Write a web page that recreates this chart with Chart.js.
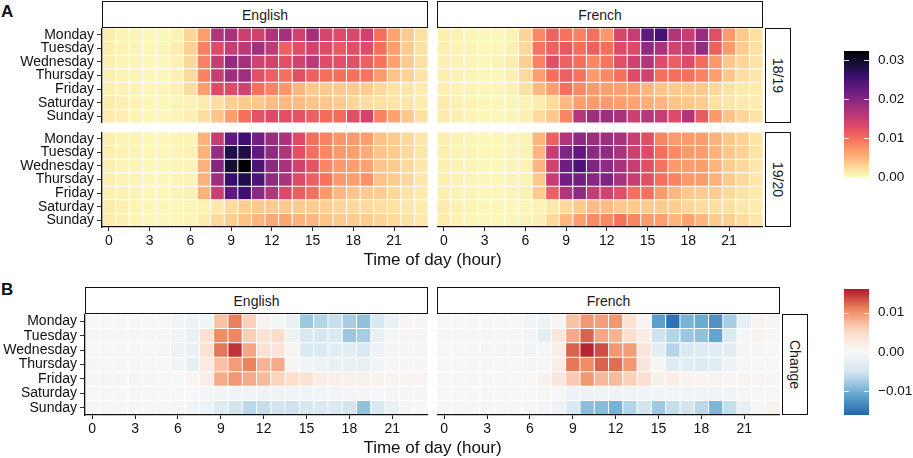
<!DOCTYPE html>
<html>
<head>
<meta charset="utf-8">
<script src="https://cdn.jsdelivr.net/npm/chart.js@4.4.1/dist/chart.umd.min.js"></script>
<style>
  body { margin: 0; background: #fff; }
  #wrap { position: relative; width: 913px; height: 458px; overflow: hidden; font-family: 'Liberation Sans', Arial, Helvetica, sans-serif; color: #111; }
  canvas { position: absolute; }
  .strip { position: absolute; box-sizing: border-box; border: 1.3px solid #111; background: #fff; display: flex; align-items: center; justify-content: center; font-size: 14px; color: #1a1a1a; }
  .strip.side { writing-mode: vertical-rl; }
  .tag { position: absolute; font-size: 17px; font-weight: bold; line-height: 17px; }
  .xtitle { position: absolute; font-size: 17px; line-height: 17px; text-align: center; }
</style>
</head>
<body>
<div id="wrap">
  <div class="tag" style="left:1px;top:3px">A</div>
  <div class="tag" style="left:1px;top:281px">B</div>

  <div class="strip" style="left:102px;top:1px;width:326px;height:27px">English</div>
  <div class="strip" style="left:437px;top:1px;width:326px;height:27px">French</div>
  <div class="strip side" style="left:765px;top:28px;width:26px;height:95px">18/19</div>
  <div class="strip side" style="left:765px;top:132px;width:26px;height:95px">19/20</div>

  <div class="strip" style="left:85px;top:287px;width:343px;height:27px">English</div>
  <div class="strip" style="left:437px;top:287px;width:343px;height:27px">French</div>
  <div class="strip side" style="left:782px;top:314px;width:26px;height:101px">Change</div>

  <canvas id="enTop" width="428" height="95" style="left:0;top:28px"></canvas>
  <canvas id="frTop" width="326" height="95" style="left:437px;top:28px"></canvas>
  <canvas id="enBot" width="428" height="119" style="left:0;top:132px"></canvas>
  <canvas id="frBot" width="326" height="119" style="left:437px;top:132px"></canvas>
  <canvas id="enChg" width="428" height="125" style="left:0;top:314px"></canvas>
  <canvas id="frChg" width="343" height="125" style="left:437px;top:314px"></canvas>
  <canvas id="cbShare" width="72" height="136" style="left:844px;top:46px"></canvas>
  <canvas id="cbChange" width="72" height="136" style="left:844px;top:284px"></canvas>

  <div class="xtitle" style="left:102px;top:251px;width:661px">Time of day (hour)</div>
  <div class="xtitle" style="left:85px;top:439px;width:695px">Time of day (hour)</div>
</div>

<script>
const hours = Array.from({ length: 24 }, (_, i) => i);
const days = ['Monday', 'Tuesday', 'Wednesday', 'Thursday', 'Friday', 'Saturday', 'Sunday'];

// share of activity per hour, 18/19
const english1819 = [
  [0.0011, 0.0008, 0.0006, 0.0005, 0.0005, 0.0008, 0.0028, 0.0065, 0.0168, 0.0172, 0.0145, 0.0142, 0.0168, 0.0175, 0.0140, 0.0175, 0.0135, 0.0128, 0.0132, 0.0142, 0.0098, 0.0060, 0.0035, 0.0020],
  [0.0011, 0.0008, 0.0006, 0.0005, 0.0006, 0.0012, 0.0030, 0.0085, 0.0128, 0.0150, 0.0158, 0.0178, 0.0155, 0.0110, 0.0125, 0.0140, 0.0128, 0.0115, 0.0125, 0.0128, 0.0098, 0.0065, 0.0035, 0.0020],
  [0.0010, 0.0008, 0.0006, 0.0005, 0.0005, 0.0009, 0.0026, 0.0085, 0.0150, 0.0190, 0.0175, 0.0142, 0.0138, 0.0125, 0.0140, 0.0158, 0.0128, 0.0125, 0.0125, 0.0110, 0.0095, 0.0062, 0.0035, 0.0020],
  [0.0010, 0.0008, 0.0006, 0.0005, 0.0005, 0.0009, 0.0025, 0.0085, 0.0148, 0.0180, 0.0180, 0.0125, 0.0110, 0.0098, 0.0125, 0.0110, 0.0098, 0.0098, 0.0098, 0.0095, 0.0068, 0.0040, 0.0030, 0.0018],
  [0.0010, 0.0008, 0.0006, 0.0005, 0.0005, 0.0009, 0.0022, 0.0065, 0.0128, 0.0128, 0.0140, 0.0098, 0.0085, 0.0070, 0.0050, 0.0038, 0.0035, 0.0035, 0.0035, 0.0033, 0.0025, 0.0018, 0.0015, 0.0012],
  [0.0012, 0.0009, 0.0007, 0.0005, 0.0005, 0.0006, 0.0008, 0.0012, 0.0022, 0.0032, 0.0035, 0.0038, 0.0045, 0.0048, 0.0045, 0.0040, 0.0038, 0.0036, 0.0028, 0.0022, 0.0020, 0.0018, 0.0015, 0.0012],
  [0.0012, 0.0010, 0.0007, 0.0005, 0.0005, 0.0006, 0.0010, 0.0022, 0.0040, 0.0065, 0.0098, 0.0122, 0.0128, 0.0125, 0.0122, 0.0110, 0.0100, 0.0100, 0.0125, 0.0138, 0.0085, 0.0062, 0.0038, 0.0020]
];
const french1819 = [
  [0.0010, 0.0008, 0.0006, 0.0005, 0.0005, 0.0008, 0.0028, 0.0080, 0.0108, 0.0095, 0.0085, 0.0098, 0.0070, 0.0135, 0.0150, 0.0230, 0.0250, 0.0165, 0.0150, 0.0185, 0.0125, 0.0068, 0.0038, 0.0020],
  [0.0010, 0.0008, 0.0006, 0.0005, 0.0005, 0.0009, 0.0025, 0.0095, 0.0108, 0.0118, 0.0098, 0.0110, 0.0098, 0.0128, 0.0130, 0.0190, 0.0172, 0.0140, 0.0155, 0.0188, 0.0110, 0.0068, 0.0035, 0.0020],
  [0.0010, 0.0008, 0.0006, 0.0005, 0.0006, 0.0012, 0.0032, 0.0085, 0.0125, 0.0110, 0.0098, 0.0082, 0.0095, 0.0125, 0.0140, 0.0165, 0.0128, 0.0112, 0.0128, 0.0100, 0.0070, 0.0038, 0.0028, 0.0018],
  [0.0010, 0.0008, 0.0006, 0.0005, 0.0005, 0.0009, 0.0025, 0.0065, 0.0098, 0.0110, 0.0095, 0.0068, 0.0080, 0.0098, 0.0128, 0.0140, 0.0098, 0.0098, 0.0098, 0.0085, 0.0065, 0.0038, 0.0022, 0.0015],
  [0.0010, 0.0008, 0.0006, 0.0005, 0.0005, 0.0008, 0.0020, 0.0048, 0.0065, 0.0098, 0.0080, 0.0068, 0.0065, 0.0065, 0.0065, 0.0050, 0.0040, 0.0036, 0.0036, 0.0035, 0.0025, 0.0018, 0.0014, 0.0012],
  [0.0012, 0.0009, 0.0007, 0.0005, 0.0005, 0.0006, 0.0008, 0.0012, 0.0025, 0.0048, 0.0065, 0.0068, 0.0068, 0.0065, 0.0062, 0.0055, 0.0050, 0.0040, 0.0038, 0.0035, 0.0020, 0.0016, 0.0014, 0.0012],
  [0.0012, 0.0010, 0.0007, 0.0005, 0.0005, 0.0006, 0.0010, 0.0025, 0.0038, 0.0082, 0.0162, 0.0180, 0.0182, 0.0172, 0.0145, 0.0162, 0.0150, 0.0128, 0.0165, 0.0115, 0.0068, 0.0040, 0.0028, 0.0018]
];

// share of activity per hour, 19/20
const english1920 = [
  [0.0010, 0.0008, 0.0006, 0.0005, 0.0005, 0.0006, 0.0008, 0.0052, 0.0148, 0.0228, 0.0255, 0.0215, 0.0185, 0.0170, 0.0128, 0.0098, 0.0085, 0.0070, 0.0068, 0.0065, 0.0042, 0.0035, 0.0025, 0.0016],
  [0.0010, 0.0008, 0.0006, 0.0005, 0.0005, 0.0006, 0.0008, 0.0052, 0.0188, 0.0280, 0.0282, 0.0228, 0.0190, 0.0168, 0.0125, 0.0098, 0.0082, 0.0068, 0.0065, 0.0055, 0.0040, 0.0035, 0.0025, 0.0016],
  [0.0010, 0.0008, 0.0006, 0.0005, 0.0005, 0.0006, 0.0008, 0.0052, 0.0200, 0.0292, 0.0323, 0.0245, 0.0192, 0.0172, 0.0140, 0.0120, 0.0082, 0.0068, 0.0065, 0.0062, 0.0040, 0.0035, 0.0025, 0.0016],
  [0.0010, 0.0008, 0.0006, 0.0005, 0.0005, 0.0006, 0.0008, 0.0052, 0.0180, 0.0262, 0.0280, 0.0245, 0.0190, 0.0170, 0.0128, 0.0110, 0.0095, 0.0068, 0.0065, 0.0075, 0.0040, 0.0035, 0.0025, 0.0016],
  [0.0010, 0.0008, 0.0006, 0.0005, 0.0005, 0.0006, 0.0008, 0.0052, 0.0148, 0.0228, 0.0255, 0.0195, 0.0165, 0.0130, 0.0112, 0.0098, 0.0068, 0.0050, 0.0040, 0.0036, 0.0034, 0.0026, 0.0018, 0.0014],
  [0.0012, 0.0009, 0.0007, 0.0005, 0.0005, 0.0005, 0.0006, 0.0008, 0.0014, 0.0024, 0.0033, 0.0035, 0.0036, 0.0036, 0.0035, 0.0034, 0.0032, 0.0028, 0.0025, 0.0024, 0.0022, 0.0020, 0.0016, 0.0013],
  [0.0012, 0.0009, 0.0007, 0.0005, 0.0005, 0.0005, 0.0006, 0.0012, 0.0025, 0.0033, 0.0042, 0.0050, 0.0058, 0.0060, 0.0052, 0.0050, 0.0040, 0.0036, 0.0036, 0.0034, 0.0028, 0.0025, 0.0018, 0.0014]
];
const french1920 = [
  [0.0010, 0.0008, 0.0006, 0.0005, 0.0005, 0.0006, 0.0008, 0.0050, 0.0110, 0.0165, 0.0192, 0.0182, 0.0182, 0.0172, 0.0148, 0.0125, 0.0082, 0.0068, 0.0068, 0.0066, 0.0052, 0.0038, 0.0030, 0.0018],
  [0.0010, 0.0008, 0.0006, 0.0005, 0.0005, 0.0006, 0.0008, 0.0050, 0.0150, 0.0205, 0.0228, 0.0192, 0.0190, 0.0172, 0.0145, 0.0128, 0.0098, 0.0080, 0.0068, 0.0066, 0.0052, 0.0038, 0.0030, 0.0018],
  [0.0010, 0.0008, 0.0006, 0.0005, 0.0005, 0.0006, 0.0008, 0.0050, 0.0140, 0.0218, 0.0245, 0.0205, 0.0192, 0.0172, 0.0150, 0.0125, 0.0095, 0.0068, 0.0066, 0.0066, 0.0050, 0.0036, 0.0026, 0.0016],
  [0.0010, 0.0008, 0.0006, 0.0005, 0.0005, 0.0006, 0.0008, 0.0038, 0.0150, 0.0215, 0.0215, 0.0198, 0.0205, 0.0172, 0.0148, 0.0125, 0.0098, 0.0085, 0.0068, 0.0066, 0.0052, 0.0036, 0.0026, 0.0016],
  [0.0010, 0.0008, 0.0006, 0.0005, 0.0005, 0.0006, 0.0008, 0.0035, 0.0110, 0.0165, 0.0190, 0.0150, 0.0140, 0.0125, 0.0098, 0.0098, 0.0068, 0.0050, 0.0036, 0.0034, 0.0033, 0.0025, 0.0018, 0.0014],
  [0.0012, 0.0009, 0.0007, 0.0005, 0.0005, 0.0005, 0.0006, 0.0008, 0.0014, 0.0025, 0.0035, 0.0045, 0.0045, 0.0038, 0.0036, 0.0035, 0.0035, 0.0033, 0.0026, 0.0024, 0.0022, 0.0020, 0.0016, 0.0013],
  [0.0012, 0.0009, 0.0007, 0.0005, 0.0005, 0.0005, 0.0006, 0.0010, 0.0025, 0.0048, 0.0065, 0.0080, 0.0080, 0.0095, 0.0082, 0.0068, 0.0065, 0.0050, 0.0062, 0.0050, 0.0035, 0.0032, 0.0024, 0.0016]
];

// change (19/20 - 18/19)
const englishChange = [
  [-0.0002, -0.0002, -0.0002, -0.0002, -0.0002, -0.0003, -0.0010, -0.0015, -0.0010, 0.0070, 0.0112, 0.0060, 0.0008, -0.0004, -0.0020, -0.0080, -0.0068, -0.0058, -0.0075, -0.0085, -0.0045, -0.0018, 0.0005, 0.0006],
  [-0.0002, -0.0002, -0.0002, -0.0002, -0.0002, -0.0004, -0.0010, -0.0022, 0.0040, 0.0105, 0.0108, 0.0062, 0.0040, 0.0050, -0.0015, -0.0042, -0.0048, -0.0040, -0.0080, -0.0075, -0.0020, -0.0005, 0.0005, 0.0004],
  [-0.0002, -0.0002, -0.0002, -0.0002, -0.0003, -0.0006, -0.0015, -0.0022, 0.0040, 0.0115, 0.0148, 0.0088, 0.0042, 0.0035, 0.0008, -0.0040, -0.0040, -0.0030, -0.0030, -0.0042, -0.0015, -0.0004, 0.0004, 0.0003],
  [0.0003, 0.0002, 0.0002, 0.0002, 0.0001, 0.0000, -0.0008, -0.0025, 0.0025, 0.0070, 0.0095, 0.0110, 0.0080, 0.0085, 0.0003, -0.0010, -0.0015, -0.0020, -0.0020, -0.0020, -0.0010, -0.0002, 0.0003, 0.0003],
  [0.0005, 0.0004, 0.0003, 0.0003, 0.0003, 0.0002, 0.0000, 0.0005, 0.0020, 0.0085, 0.0098, 0.0085, 0.0075, 0.0058, 0.0045, 0.0040, 0.0020, 0.0015, 0.0012, 0.0012, 0.0010, 0.0008, 0.0008, 0.0008],
  [0.0002, 0.0002, 0.0002, 0.0002, 0.0002, 0.0002, 0.0001, 0.0000, -0.0005, -0.0008, -0.0010, -0.0010, -0.0010, -0.0012, -0.0010, -0.0008, -0.0008, -0.0008, -0.0006, -0.0005, -0.0003, 0.0003, 0.0003, 0.0003],
  [-0.0003, -0.0003, -0.0003, -0.0002, -0.0002, -0.0003, -0.0005, -0.0010, -0.0015, -0.0035, -0.0050, -0.0065, -0.0060, -0.0050, -0.0055, -0.0045, -0.0040, -0.0040, -0.0050, -0.0085, -0.0040, -0.0020, -0.0005, -0.0003]
];
const frenchChange = [
  [-0.0003, -0.0003, -0.0003, -0.0003, -0.0003, -0.0003, -0.0010, -0.0015, 0.0005, 0.0070, 0.0098, 0.0093, 0.0098, 0.0040, 0.0008, -0.0115, -0.0150, -0.0098, -0.0105, -0.0125, -0.0075, -0.0025, 0.0008, 0.0005],
  [-0.0003, -0.0003, -0.0003, -0.0003, -0.0003, -0.0004, -0.0008, -0.0030, 0.0030, 0.0085, 0.0125, 0.0088, 0.0080, 0.0045, 0.0020, -0.0055, -0.0068, -0.0080, -0.0085, -0.0110, -0.0040, -0.0003, 0.0008, 0.0005],
  [-0.0002, -0.0002, -0.0003, -0.0004, -0.0005, -0.0005, -0.0010, -0.0005, 0.0020, 0.0125, 0.0155, 0.0135, 0.0097, 0.0095, 0.0035, -0.0030, -0.0068, -0.0040, -0.0035, -0.0030, -0.0030, -0.0005, 0.0003, 0.0000],
  [-0.0002, -0.0002, -0.0002, -0.0002, -0.0003, -0.0003, -0.0005, -0.0003, 0.0020, 0.0115, 0.0105, 0.0125, 0.0120, 0.0098, 0.0030, 0.0003, -0.0035, -0.0030, -0.0035, -0.0030, -0.0015, -0.0002, -0.0002, 0.0000],
  [0.0002, 0.0002, 0.0002, 0.0002, 0.0002, 0.0002, 0.0002, 0.0010, 0.0030, 0.0065, 0.0098, 0.0075, 0.0075, 0.0060, 0.0045, 0.0015, 0.0020, 0.0010, 0.0008, 0.0008, 0.0003, 0.0008, 0.0005, 0.0003],
  [0.0002, 0.0002, 0.0002, 0.0002, 0.0002, 0.0002, 0.0002, 0.0002, -0.0003, -0.0015, -0.0015, -0.0008, -0.0010, -0.0012, -0.0008, -0.0008, -0.0008, -0.0008, -0.0008, -0.0008, -0.0008, 0.0002, 0.0002, 0.0002],
  [-0.0002, -0.0002, -0.0002, -0.0002, -0.0002, -0.0002, -0.0002, -0.0005, -0.0015, -0.0040, -0.0088, -0.0090, -0.0098, -0.0068, -0.0050, -0.0078, -0.0060, -0.0050, -0.0065, -0.0095, -0.0060, -0.0025, -0.0002, 0.0010]
];

// colour scales
const shareMax = 0.0323;
const shareTicks = [0, 0.01, 0.02, 0.03];
const changeLim = 0.016;
const changeTicks = [-0.01, 0, 0.01];

const magma = ['#000004', '#140E36', '#3B0F70', '#641A80', '#8C2981', '#B73779', '#DE4968', '#F7705C', '#FE9F6D', '#FECF92', '#FCFDBF'];
const rdbu = ['#2166AC', '#67A9CF', '#D1E5F0', '#F7F7F7', '#FDDBC7', '#EF8A62', '#B2182B'];

function hexRgb(h) {
  return [1, 3, 5].map(i => parseInt(h.slice(i, i + 2), 16));
}
function ramp(stops, t) {
  t = Math.max(0, Math.min(1, t));
  const x = t * (stops.length - 1);
  const i = Math.min(stops.length - 2, Math.floor(x));
  const f = x - i;
  const a = hexRgb(stops[i]), b = hexRgb(stops[i + 1]);
  const c = a.map((v, k) => Math.round(v + (b[k] - v) * f));
  return `rgb(${c[0]},${c[1]},${c[2]})`;
}
const shareColor = v => ramp(magma, 1 - v / shareMax);
const changeColor = v => ramp(rdbu, (v + changeLim) / (2 * changeLim));

Chart.defaults.font.family = "'Liberation Sans', Arial, Helvetica, sans-serif";
Chart.defaults.color = '#111';

function heatmap(id, rows, colorOf, yWidth, showHours) {
  return new Chart(document.getElementById(id), {
    type: 'bar',
    data: {
      labels: hours,
      datasets: days.map((day, d) => ({
        label: day,
        data: hours.map(() => 1),
        backgroundColor: rows[d].map(colorOf),
        borderColor: '#ffffff',
        borderWidth: 0.5,
        borderSkipped: false,
        inflateAmount: 0,
        barPercentage: 1,
        categoryPercentage: 1
      }))
    },
    options: {
      responsive: false,
      animation: false,
      events: [],
      layout: { padding: 0 },
      plugins: { legend: { display: false }, tooltip: { enabled: false } },
      scales: {
        x: {
          stacked: true,
          display: showHours,
          grid: {
            offset: false, drawOnChartArea: false, tickLength: 4, lineWidth: 1,
            color: c => c.index % 3 === 0 ? '#222' : 'rgba(0,0,0,0)'
          },
          border: { display: true, color: '#111', width: 1.3, z: 1 },
          ticks: {
            autoSkip: false, maxRotation: 0, padding: 2, color: '#111', font: { size: 14 },
            callback: (v, i) => i % 3 === 0 ? String(hours[i]) : ''
          },
          afterFit: s => {
            if (showHours) s.height = 24;
            s.paddingLeft = 0; s.paddingRight = 0;
          }
        },
        y: {
          stacked: true, min: 0, max: 7, reverse: true,
          display: yWidth > 0,
          afterBuildTicks: ax => { ax.ticks = days.map((d, i) => ({ value: i + 0.5 })); },
          grid: { drawOnChartArea: false, tickLength: 5, lineWidth: 1, color: '#333' },
          border: { display: true, color: '#111', width: 1.3, z: 1 },
          ticks: { autoSkip: false, padding: 3, color: '#111', font: { size: 14 }, callback: v => days[Math.floor(v)] },
          afterFit: s => {
            if (yWidth > 0) s.width = yWidth;
            s.paddingTop = 0; s.paddingBottom = 0;
          }
        }
      }
    }
  });
}

heatmap('enTop', english1819, shareColor, 102, false);
heatmap('frTop', french1819, shareColor, 0, false);
heatmap('enBot', english1920, shareColor, 102, true);
heatmap('frBot', french1920, shareColor, 0, true);
heatmap('enChg', englishChange, changeColor, 85, true);
heatmap('frChg', frenchChange, changeColor, 0, true);

// short white marks across the colour bar at each break
const barTicks = {
  id: 'barTicks',
  afterDatasetsDraw(chart) {
    const { ctx, chartArea: a, scales: { y } } = chart;
    ctx.save();
    ctx.strokeStyle = 'rgba(255,255,255,0.85)';
    ctx.lineWidth = 1;
    y.ticks.forEach(t => {
      const py = Math.round(y.getPixelForValue(t.value)) + 0.5;
      ctx.beginPath();
      ctx.moveTo(a.left, py); ctx.lineTo(a.left + 5, py);
      ctx.moveTo(a.right - 5, py); ctx.lineTo(a.right, py);
      ctx.stroke();
    });
    ctx.restore();
  }
};

function colorbar(id, lo, hi, ticks, colorOf, fmt) {
  return new Chart(document.getElementById(id), {
    type: 'bar',
    data: {
      labels: [''],
      datasets: [{
        data: [[lo, hi]],
        backgroundColor: c => {
          const a = c.chart.chartArea;
          if (!a) return colorOf(lo);
          const g = c.chart.ctx.createLinearGradient(0, a.bottom, 0, a.top);
          for (let k = 0; k <= 20; k++) g.addColorStop(k / 20, colorOf(lo + (hi - lo) * k / 20));
          return g;
        },
        borderWidth: 0,
        barPercentage: 1,
        categoryPercentage: 1
      }]
    },
    options: {
      responsive: false,
      animation: false,
      events: [],
      layout: { padding: { top: 5, bottom: 5, left: 0, right: 0 } },
      plugins: { legend: { display: false }, tooltip: { enabled: false } },
      scales: {
        x: { display: false },
        y: {
          position: 'right', min: lo, max: hi,
          grid: { display: false, drawTicks: false, tickLength: 0 }, border: { display: false },
          afterBuildTicks: ax => { ax.ticks = ticks.map(v => ({ value: v })); },
          ticks: { autoSkip: false, padding: 9, color: '#111', font: { size: 13.5 }, callback: fmt },
          afterFit: s => { s.width = 47; s.paddingTop = 0; s.paddingBottom = 0; }
        }
      }
    },
    plugins: [barTicks]
  });
}

colorbar('cbShare', 0, shareMax, shareTicks, shareColor, v => v.toFixed(2));
colorbar('cbChange', -changeLim, changeLim, changeTicks, changeColor,
  v => (v < 0 ? '\u2212' : '') + Math.abs(v).toFixed(2));
</script>
</body>
</html>
